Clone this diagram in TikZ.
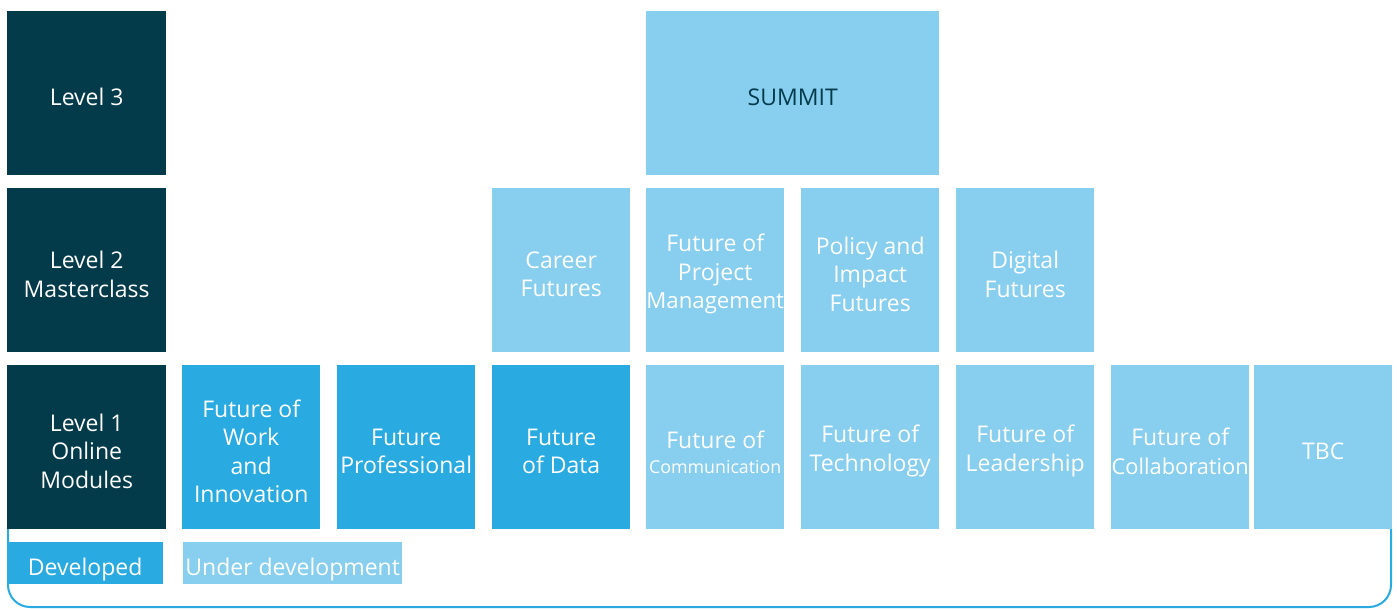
\documentclass[tikz,border=0pt]{standalone}
\usepackage{fontspec}
\setmainfont{Open Sans}
\definecolor{darkteal}{HTML}{033B4A}
\definecolor{devblue}{HTML}{29ABE2}
\definecolor{lightblue}{HTML}{87CEEF}
\begin{document}
\begin{tikzpicture}[x=1pt,y=-1pt,
  txt/.style={align=center,text=white,inner sep=0pt,yshift=-4pt,font=\fontsize{23}{28.5}\selectfont},
  cell/.style={anchor=north west,minimum width=138pt,minimum height=164pt,inner sep=0pt},
  lvl/.style={cell,fill=darkteal,minimum width=159pt},
  dev/.style={cell,fill=devblue},
  und/.style={cell,fill=lightblue},
  legend/.style={anchor=north west,minimum height=42pt,inner sep=0pt}]
\useasboundingbox (0,0) rectangle (1397,609);
% border
\coordinate (bl) at (8,529);
\coordinate (br) at (1391,529);
\draw[devblue,line width=2pt,rounded corners=22pt] (bl) -- (8,607) -- (1391,607) -- (br);
% level column
\node[lvl,label={[txt]center:Level 3}] (l3) at (7,11) {};
\node[lvl,label={[txt]center:Level 2\\Masterclass}] (l2) at (7,188) {};
\node[lvl,label={[txt]center:Level 1\\Online\\Modules}] (l1) at (7,365) {};
% level 3
\node[und,minimum width=293pt,label={[txt,text=darkteal]center:SUMMIT}] (summit) at (646,11) {};
% level 2
\node[und,label={[txt]center:Future of\\Project\\{\fontsize{22.2}{28.5}\selectfont Management}}] (pm) at (646,188) {};
\node[und,label={[txt]center:Career\\Futures}] (career) at (492,188) {};
\node[und,label={[txt]center:Policy and\\Impact\\Futures}] (policy) at (801,188) {};
\node[und,label={[txt]center:Digital\\Futures}] (digital) at (956,188) {};
% level 1
\node[dev,label={[txt]center:Future of\\Work\\and\\Innovation}] (work) at (182,365) {};
\node[dev,label={[txt]center:Future\\Professional}] (prof) at (337,365) {};
\node[dev,label={[txt]center:Future\\of Data}] (data) at (492,365) {};
\node[und,label={[txt,yshift=-1pt]center:Future of\\[-3pt]{\fontsize{17.8}{22}\selectfont Communication}}] (comm) at (646,365) {};
\node[und,label={[txt]center:Future of\\Technology}] (tech) at (801,365) {};
\node[und,label={[txt]center:Future of\\Leadership}] (lead) at (956,365) {};
\node[und,label={[txt]center:Future of\\{\fontsize{21.8}{28.5}\selectfont Collaboration}}] (collab) at (1111,365) {};
\node[und,label={[txt]center:TBC}] (tbc) at (1254,365) {};
% legend
\node[legend,fill=devblue,minimum width=156pt,label={[txt,yshift=-2pt]center:Developed}] (ldev) at (7,542) {};
\node[legend,fill=lightblue,minimum width=219pt,label={[txt,yshift=-2pt]center:Under development}] (lund) at (183,542) {};
\end{tikzpicture}
\end{document}
